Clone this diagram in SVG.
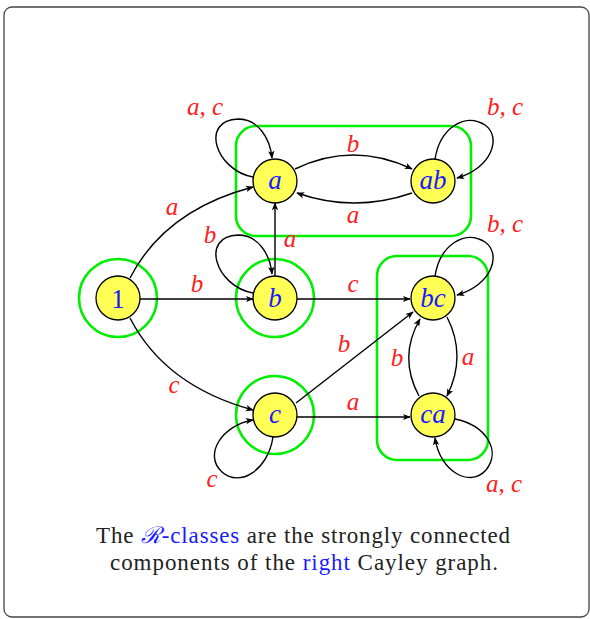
<svg xmlns="http://www.w3.org/2000/svg" width="590" height="619" viewBox="0 0 590 619">
<defs>
<marker id="arr" viewBox="0 0 10 10" refX="9" refY="5" markerWidth="8" markerHeight="8" markerUnits="userSpaceOnUse" orient="auto">
<path d="M0,1 L10,5 L0,9 L2.5,5 Z" fill="#000"/>
</marker>
<style>
.frame{fill:#fff;stroke:#444;stroke-width:1.3}
.cls{fill:none;stroke:#00ee00;stroke-width:2.6}
.node{fill:#ffff55;stroke:#000;stroke-width:1.3}
.nl{font-family:"Liberation Serif",serif;font-style:italic;font-size:27px;fill:#1a1aff;text-anchor:middle}
.e{fill:none;stroke:#000;stroke-width:1.4;marker-end:url(#arr)}
.el{font-family:"Liberation Serif",serif;font-style:italic;font-size:25px;fill:#ff2020;text-anchor:middle}
.cap{font-family:"Liberation Serif",serif;font-size:23px;fill:#222;text-anchor:middle}
.blue{fill:#1a1aff}
</style>
</defs>
<rect class="frame" x="4" y="7" width="585" height="610" rx="8"/>
<g id="classes">
<circle class="cls" cx="118" cy="298" r="39"/>
<circle class="cls" cx="275" cy="298" r="39"/>
<circle class="cls" cx="275" cy="415" r="39"/>
<rect class="cls" x="236" y="126" width="235" height="110" rx="20"/>
<rect class="cls" x="377" y="256" width="111" height="204" rx="20"/>
</g>
<g id="connectors">
<path class="e" d="M130,278 Q165,210 253,187"/>
<path class="e" d="M140,299 L253,299"/>
<path class="e" d="M130,318 Q165,386 253,410"/>
<path class="e" d="M275,276 L275,203"/>
<path class="e" d="M297,299 L410,299"/>
<path class="e" d="M296,403 L413,312"/>
<path class="e" d="M297,417 L410,417"/>
<path class="e" d="M295,169 Q353,141 412,169"/>
<path class="e" d="M412,193 Q354,213 297,193"/>
<path class="e" d="M447,317 Q467,356 447,396"/>
<path class="e" d="M419,396 Q398,357 420,319"/>
<path class="e" d="M253,177 C215,170 200,120 238,119 C258,119 270,138 272,158"/>
<path class="e" d="M253,293 C215,286 200,236 238,235 C258,235 270,254 272,274"/>
<path class="e" d="M435,159 C440,128 465,112 485,125 C502,137 492,168 457,178"/>
<path class="e" d="M435,276 C440,245 465,229 485,242 C502,254 492,285 457,295"/>
<path class="e" d="M273,437 C268,470 240,488 222,472 C203,455 222,425 253,420"/>
<path class="e" d="M455,419 C485,425 502,450 486,470 C470,488 440,472 435,438"/>
</g>
<g id="edge-labels">
<text class="el" x="172" y="215">a</text>
<text class="el" x="197" y="292">b</text>
<text class="el" x="174" y="393">c</text>
<text class="el" x="290" y="247">a</text>
<text class="el" x="353" y="292">c</text>
<text class="el" x="344" y="352">b</text>
<text class="el" x="353" y="410">a</text>
<text class="el" x="353" y="152">b</text>
<text class="el" x="353" y="223">a</text>
<text class="el" x="468" y="365">a</text>
<text class="el" x="397" y="366">b</text>
<text class="el" x="205" y="115">a, c</text>
<text class="el" x="210" y="243">b</text>
<text class="el" x="505" y="115">b, c</text>
<text class="el" x="505" y="232">b, c</text>
<text class="el" x="212" y="487">c</text>
<text class="el" x="504" y="492">a, c</text>
</g>
<g id="n1"><circle class="node" cx="118" cy="298" r="22"/><text class="nl" x="118" y="308" style="font-style:normal">1</text></g>
<g id="na"><circle class="node" cx="275" cy="181" r="22"/><text class="nl" x="275" y="189">a</text></g>
<g id="nab"><circle class="node" cx="433" cy="181" r="22"/><text class="nl" x="433" y="189">ab</text></g>
<g id="nb"><circle class="node" cx="275" cy="298" r="22"/><text class="nl" x="275" y="307">b</text></g>
<g id="nbc"><circle class="node" cx="433" cy="298" r="22"/><text class="nl" x="433" y="307">bc</text></g>
<g id="nc"><circle class="node" cx="275" cy="415" r="22"/><text class="nl" x="275" y="423">c</text></g>
<g id="nca"><circle class="node" cx="433" cy="415" r="22"/><text class="nl" x="433" y="423">ca</text></g>
<g id="caption">
<text class="cap" x="303" y="543" textLength="414" lengthAdjust="spacing">The <tspan class="blue"><tspan font-style="italic">ℛ</tspan>-classes</tspan> are the strongly connected</text>
<text class="cap" x="304" y="570" textLength="388" lengthAdjust="spacing">components of the <tspan class="blue">right</tspan> Cayley graph.</text>
</g>
</svg>
